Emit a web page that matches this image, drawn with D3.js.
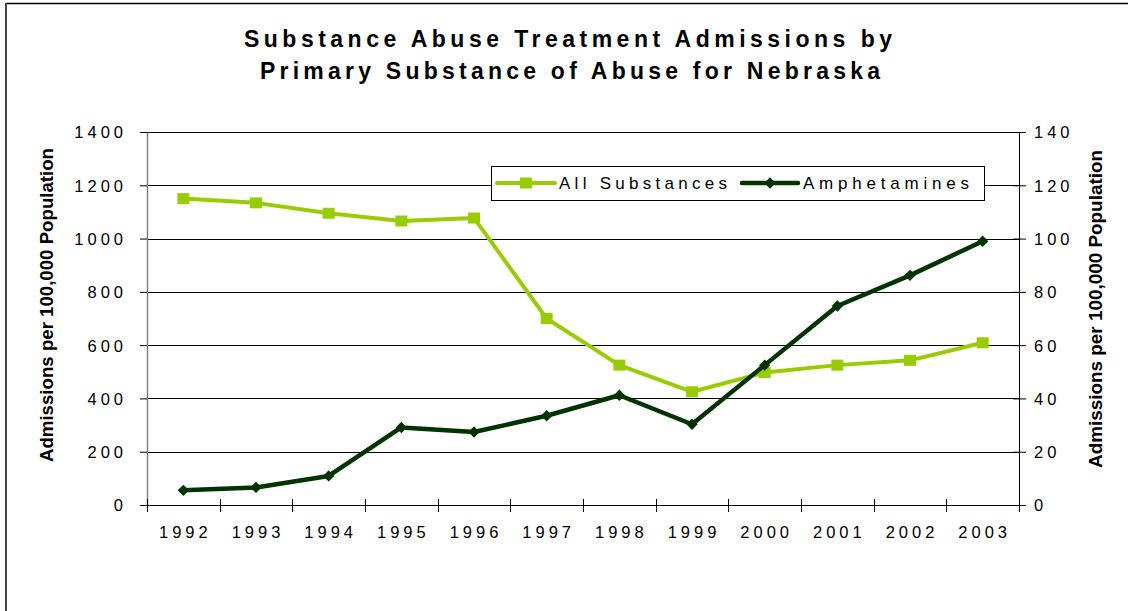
<!DOCTYPE html>
<html>
<head>
<meta charset="utf-8">
<script src="https://cdn.jsdelivr.net/npm/d3@7"></script>
<style>
  body { margin: 0; background: #fff; }
  svg { display: block; }
  text { font-family: "Liberation Sans", Arial, Helvetica, sans-serif; fill: #000; }
</style>
</head>
<body>
<svg id="chart" width="1128" height="611"></svg>
<script>
// Admissions per 100,000 population, Nebraska
const years = ["1992", "1993", "1994", "1995", "1996", "1997", "1998", "1999", "2000", "2001", "2002", "2003"];
const allSubstances = [1150, 1134, 1095, 1066, 1077, 700, 525, 425, 497, 525, 543, 609];   // left axis
const amphetamines = [5.5, 6.6, 10.9, 29.1, 27.4, 33.5, 41.2, 30.3, 52.5, 74.7, 86.2, 99.0]; // right axis
const leftTicks = [0, 200, 400, 600, 800, 1000, 1200, 1400];
const rightTicks = [0, 20, 40, 60, 80, 100, 120, 140];
const titleLines = ["Substance Abuse Treatment Admissions by", "Primary Substance of Abuse for Nebraska"];
const axisTitle = "Admissions per 100,000 Population";
const seriesNames = ["All Substances", "Amphetamines"];
const seriesColors = ["#99cc00", "#003300"];

const svg = d3.select("#chart");
const plot = { left: 147, right: 1019, top: 132, bottom: 505 };

const x = d3.scaleBand().domain(years).range([plot.left, plot.right]).padding(0);
const yL = d3.scaleLinear().domain([0, 1400]).range([plot.bottom, plot.top]);
const yR = d3.scaleLinear().domain([0, 140]).range([plot.bottom, plot.top]);

const tickFont = "16.5px";
const tickSpacing = 4;

// outer frame (top and left edges)
svg.append("line").attr("x1", 6).attr("x2", 1128).attr("y1", 3.5).attr("y2", 3.5)
  .attr("stroke", "#000").attr("stroke-width", 1.5);
svg.append("line").attr("x1", 6).attr("x2", 6).attr("y1", 3).attr("y2", 611)
  .attr("stroke", "#444").attr("stroke-width", 2);

// title
const titleGeom = [{ x: 244, y: 47, w: 648 }, { x: 260, y: 79, w: 620 }];
svg.selectAll("text.title").data(titleLines).enter().append("text")
  .attr("class", "title")
  .attr("x", (d, i) => titleGeom[i].x)
  .attr("y", (d, i) => titleGeom[i].y)
  .attr("textLength", (d, i) => titleGeom[i].w)
  .attr("lengthAdjust", "spacing")
  .style("font-size", "23px").style("font-weight", "bold")
  .text(d => d);

// horizontal gridlines
svg.append("g").selectAll("line").data(leftTicks.filter(d => d > 0)).enter().append("line")
  .attr("x1", plot.left).attr("x2", plot.right)
  .attr("y1", d => Math.round(yL(d)) + 0.5).attr("y2", d => Math.round(yL(d)) + 0.5)
  .attr("stroke", "#000").attr("stroke-width", 1);

// left axis
const gL = svg.append("g").attr("transform", `translate(${plot.left},0)`)
  .call(d3.axisLeft(yL).tickValues(leftTicks).tickFormat(d3.format("d")).tickSize(7).tickSizeOuter(0));
gL.select(".domain").attr("stroke", "#808080").attr("stroke-width", 1.5);
gL.selectAll(".tick line").attr("stroke", "#000");
gL.selectAll(".tick text")
  .attr("x", -24 + tickSpacing).attr("dy", "0.36em")
  .style("font-size", tickFont).style("letter-spacing", tickSpacing + "px").attr("fill", "#000");

// right axis
const gR = svg.append("g").attr("transform", `translate(${plot.right},0)`)
  .call(d3.axisRight(yR).tickValues(rightTicks).tickFormat(d3.format("d")).tickSize(7).tickSizeOuter(0));
gR.select(".domain").attr("stroke", "#000").attr("stroke-width", 1);
gR.selectAll(".tick line").attr("stroke", "#000").attr("x1", -6);
gR.selectAll(".tick text")
  .attr("x", 15).attr("dy", "0.36em")
  .style("font-size", tickFont).style("letter-spacing", tickSpacing + "px").attr("fill", "#000");

// bottom axis: ticks sit on the category boundaries and cross the axis line
const gB = svg.append("g").attr("transform", `translate(0,${plot.bottom})`);
gB.append("line").attr("x1", plot.left).attr("x2", plot.right).attr("y1", 0.5).attr("y2", 0.5)
  .attr("stroke", "#000");
const bounds = years.map(d => x(d)).concat([plot.right]);
gB.selectAll("line.tick").data(bounds).enter().append("line").attr("class", "tick")
  .attr("x1", d => Math.round(d) + 0.5).attr("x2", d => Math.round(d) + 0.5)
  .attr("y1", -6).attr("y2", 7).attr("stroke", "#000");
gB.selectAll("text").data(years).enter().append("text")
  .attr("x", d => x(d) + x.bandwidth() / 2 + tickSpacing / 2)
  .attr("y", 33)
  .attr("text-anchor", "middle")
  .style("font-size", tickFont).style("letter-spacing", tickSpacing + "px")
  .text(d => d);

// axis titles
svg.append("text")
  .attr("transform", `translate(53,${(148 + 462) / 2}) rotate(-90)`)
  .attr("text-anchor", "middle")
  .attr("textLength", 314).attr("lengthAdjust", "spacingAndGlyphs")
  .style("font-size", "18px").style("font-weight", "bold")
  .text(axisTitle);
svg.append("text")
  .attr("transform", `translate(1102,${(148 + 470) / 2}) rotate(-90)`)
  .attr("text-anchor", "middle")
  .attr("textLength", 318).attr("lengthAdjust", "spacingAndGlyphs")
  .style("font-size", "18px").style("font-weight", "bold")
  .text(axisTitle);

// series lines
const cx = d => x(d) + x.bandwidth() / 2;
const lineAll = d3.line().x((d, i) => cx(years[i])).y(d => yL(d));
const lineAmp = d3.line().x((d, i) => cx(years[i])).y(d => yR(d));
const diamondPath = d3.symbol().type(d3.symbolSquare).size(64);

svg.append("path").datum(allSubstances).attr("d", lineAll)
  .attr("fill", "none").attr("stroke", seriesColors[0]).attr("stroke-width", 4)
  .attr("stroke-linejoin", "round");
svg.append("g").selectAll("rect").data(allSubstances).enter().append("rect")
  .attr("x", (d, i) => cx(years[i]) - 6).attr("y", d => yL(d) - 5.5)
  .attr("width", 12).attr("height", 11).attr("fill", seriesColors[0]);

svg.append("path").datum(amphetamines).attr("d", lineAmp)
  .attr("fill", "none").attr("stroke", seriesColors[1]).attr("stroke-width", 4.5)
  .attr("stroke-linejoin", "round");
svg.append("g").selectAll("path").data(amphetamines).enter().append("path")
  .attr("transform", (d, i) => `translate(${cx(years[i])},${yR(d)}) rotate(45)`)
  .attr("d", diamondPath)
  .attr("fill", seriesColors[1]);

// legend
const lg = svg.append("g");
lg.append("rect").attr("x", 491.5).attr("y", 166.5).attr("width", 493).attr("height", 34)
  .attr("fill", "#fff").attr("stroke", "#000").attr("stroke-width", 1);
const legendItems = [
  { lx1: 497, lx2: 555, tx: 559, tw: 168 },
  { lx1: 742, lx2: 798, tx: 803, tw: 166 }
];
legendItems.forEach((it, i) => {
  lg.append("line").attr("x1", it.lx1).attr("x2", it.lx2).attr("y1", 183).attr("y2", 183)
    .attr("stroke", seriesColors[i]).attr("stroke-width", i === 0 ? 4 : 4.5).attr("stroke-linecap", "round");
  const mx = (it.lx1 + it.lx2) / 2;
  if (i === 0) {
    lg.append("rect").attr("x", mx - 6).attr("y", 183 - 5.5).attr("width", 12).attr("height", 11)
      .attr("fill", seriesColors[0]);
  } else {
    lg.append("path").attr("transform", `translate(${mx},183) rotate(45)`)
      .attr("d", diamondPath).attr("fill", seriesColors[1]);
  }
  lg.append("text").attr("x", it.tx).attr("y", 189)
    .attr("textLength", it.tw).attr("lengthAdjust", "spacing")
    .style("font-size", "17px")
    .text(seriesNames[i]);
});
</script>
</body>
</html>
